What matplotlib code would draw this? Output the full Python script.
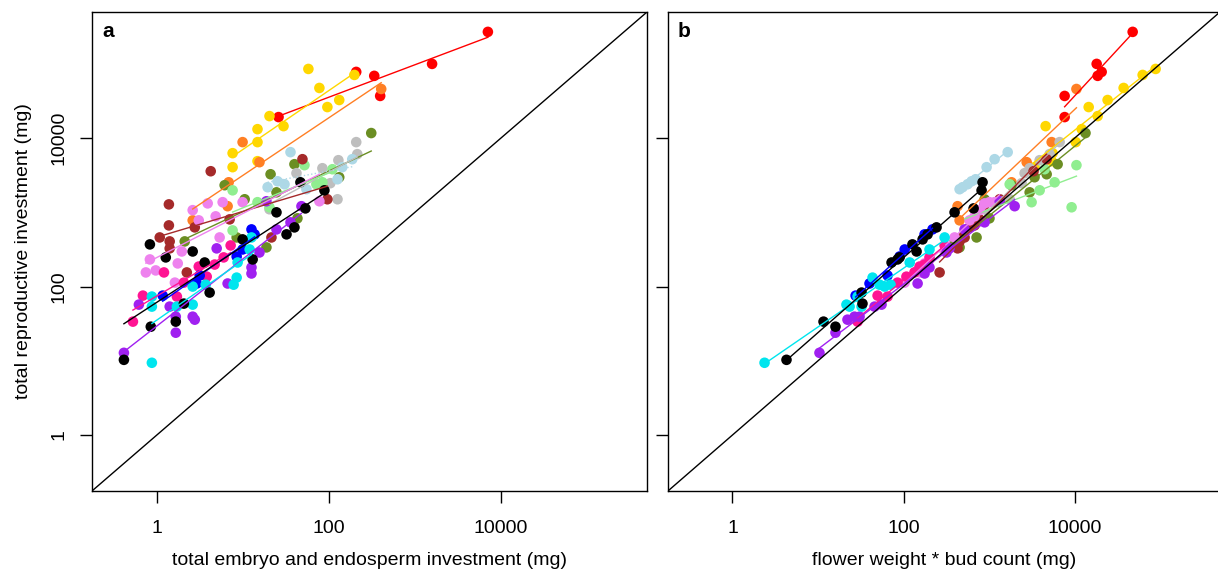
import numpy as np
import matplotlib
matplotlib.use("Agg")
import matplotlib.pyplot as plt

plt.rcParams['font.family'] = ['Liberation Sans', 'DejaVu Sans']
plt.rcParams['font.size'] = 14

# total reproductive investment (y), embryo+endosperm (xa), flower weight*bud count (xb), mg
red_y = [270000, 100000, 78000, 69000, 37000, 19200]
red_xa = [7060, 1585, 208, 337, 395, 26]
red_xb = [47700, 18100, 20700, 18600, 7640, 7640]

gold_y = [85500, 47400, 71000, 32600, 26200, 19800, 13200, 14500, 8830, 6270, 4060, 4890]
gold_xa = [57.8, 77.6, 198, 132, 96.1, 20.4, 14.8, 29.7, 14.8, 7.6, 7.6, 14.8]
gold_xb = [88500, 37400, 62400, 24300, 14600, 18600, 12100, 4580, 10300, 5530, 3400, 5390]

orange_y = [45900, 8830, 4740, 2540, 1210, 780]
orange_xa = [406, 9.93, 15.6, 6.84, 6.65, 2.61]
orange_xb = [10500, 5390, 2750, 1830, 428, 452]

olive_y = [11700, 4450, 3260, 1860, 830, 1500, 459, 337, 406, 2320, 2970]
olive_xa = [311, 39.8, 21.0, 24.6, 43.1, 10.5, 8.47, 18.8, 2.11, 6.14, 132]
olive_xb = [13400, 6330, 4710, 2980, 1010, 885, 714, 452, 395, 1830, 3400]

gray_y = [8830, 6080, 5040, 3930, 3370, 2470, 1500, 1100]
gray_xa = [208, 214, 129, 84.1, 42, 104, 126, 20.4]
gray_xb = [6680, 5100, 3900, 2980, 2600, 2400, 1740, 885]

lblue_y = [6470, 5200, 4060, 2790, 2620, 2180, 2390, 2050]
lblue_xa = [35.8, 187, 143, 126, 25.3, 19.4, 30.5, 54.8]
lblue_xb = [1650, 1160, 935, 695, 624, 490, 561, 452]

lgreen_y = [4320, 3810, 2540, 2390, 1980, 1370, 1170, 571]
lgreen_xa = [52, 110, 84.1, 71.6, 7.6, 14.8, 20.4, 7.6]
lgreen_xb = [10500, 4460, 5840, 1740, 3900, 3140, 9220, 517]

brown_y = [5200, 3580, 1500, 1280, 804, 667, 627, 459, 406, 327, 459, 155]
brown_xa = [49.3, 4.23, 96.1, 1.38, 7.02, 1.38, 2.76, 1.08, 1.41, 1.41, 21.5, 2.23]
brown_xb = [4710, 3310, 1330, 885, 774, 676, 592, 517, 452, 428, 490, 264]

violet_y = [1070, 1320, 1370, 1370, 883, 780, 1410, 232, 155, 165, 205, 297, 459, 113]
violet_xa = [2.61, 3.9, 5.82, 9.93, 4.83, 3.07, 77.6, 0.83, 0.745, 0.97, 1.75, 1.95, 5.37, 1.62]
violet_xb = [774, 885, 1010, 1160, 676, 592, 1330, 201, 154, 146, 176, 302, 395, 103]

dpink_y = [33.7, 75.5, 155, 73.3, 113, 186, 136, 247, 358, 198]
dpink_xa = [0.527, 0.688, 1.21, 1.71, 2.06, 3.07, 3.8, 5.98, 7.21, 4.7]
dpink_xb = [29.0, 49.7, 134, 65, 85, 154, 108, 201, 302, 176]

purple_y = [12.8, 23.9, 35.8, 39.3, 39.3, 57.1, 53.7, 110, 150, 181, 288, 327, 589, 733, 1210, 1410]
purple_xa = [0.414, 1.66, 2.76, 1.66, 2.61, 0.618, 1.41, 6.65, 12.6, 12.6, 15.6, 4.96, 24.6, 35.8, 48, 18.8]
purple_xb = [10.4, 16.0, 22.1, 26.7, 30.6, 55.3, 45.8, 146, 176, 201, 318, 345, 517, 885, 1990, 1330]

blue_y = [589, 505, 316, 254, 141, 110, 75.5]
blue_xa = [12.6, 13.7, 9.93, 8.47, 3.15, 2.91, 1.17]
blue_xb = [218, 176, 103, 89.8, 65, 40, 27.5]

cyan_y = [9.4, 73.3, 53.7, 53.7, 57.1, 100, 106, 106, 132, 211, 316, 459]
cyan_xa = [0.875, 0.875, 0.875, 1.71, 2.61, 2.61, 3.7, 7.81, 8.47, 8.69, 12.0, 12.6]
cyan_xb = [2.37, 29.0, 32.3, 23.4, 21.5, 60, 70.5, 52.4, 43.4, 118, 201, 302]

black_y = [2540, 1980, 1130, 1000, 627, 505, 432, 370, 297, 247, 232, 211, 83, 58.9, 33.7, 28.8, 10.3]
black_xa = [46.7, 88.7, 53.4, 24.6, 39.8, 32.2, 9.93, 0.83, 2.61, 1.27, 13.0, 3.6, 4.11, 2.06, 1.66, 0.85, 0.414]
black_xb = [839, 817, 659, 395, 243, 191, 167, 127, 142, 89.8, 85, 72.4, 32.3, 33.1, 11.6, 16.0, 4.28]

# colour, y, xa, xb, dotted line in panel a
groups = [
    ('#FF0000', red_y, red_xa, red_xb, False),
    ('#FFD700', gold_y, gold_xa, gold_xb, False),
    ('#FF7F24', orange_y, orange_xa, orange_xb, False),
    ('#6B8E23', olive_y, olive_xa, olive_xb, False),
    ('#BEBEBE', gray_y, gray_xa, gray_xb, False),
    ('#ADD8E6', lblue_y, lblue_xa, lblue_xb, True),
    ('#90EE90', lgreen_y, lgreen_xa, lgreen_xb, False),
    ('#A52A2A', brown_y, brown_xa, brown_xb, False),
    ('#EE82EE', violet_y, violet_xa, violet_xb, False),
    ('#FF1493', dpink_y, dpink_xa, dpink_xb, False),
    ('#A020F0', purple_y, purple_xa, purple_xb, False),
    ('#0000FF', blue_y, blue_xa, blue_xb, False),
    ('#00E5EE', cyan_y, cyan_xa, cyan_xb, False),
    ('#000000', black_y, black_xa, black_xb, False),
]

lims = (0.176, 5.0e5)


def panel(ax, which, label):
    for col, y, xa, xb, dotted in groups:
        x = np.array(xa if which == 'a' else xb, dtype=float)
        y = np.array(y, dtype=float)
        ax.scatter(x, y, s=58, color=col, edgecolors='none', zorder=2)
        lx, ly = np.log10(x), np.log10(y)
        k, b = np.polyfit(lx, ly, 1)
        xs = np.array([lx.min(), lx.max()])
        ls = ':' if (dotted and which == 'a') else '-'
        ax.plot(10 ** xs, 10 ** (k * xs + b), color=col, lw=1, ls=ls, zorder=3)
    ax.plot(lims, lims, color='black', lw=1, zorder=4)
    ax.set_xscale('log')
    ax.set_yscale('log')
    ax.set_xlim(lims)
    ax.set_ylim(lims)
    ax.set_xticks([1, 100, 10000])
    ax.set_xticklabels(['1', '100', '10000'])
    ax.set_yticks([1, 100, 10000])
    ax.set_yticklabels(['1', '100', '10000'], rotation=90, va='center')
    ax.minorticks_off()
    ax.tick_params(axis='both', length=8.6, width=1, direction='out')
    ax.tick_params(axis='x', pad=12)
    ax.tick_params(axis='y', pad=9)
    for s in ax.spines.values():
        s.set_linewidth(1)
    ax.text(0.018, 0.948, label, transform=ax.transAxes, fontsize=15,
            fontweight='bold', va='baseline', ha='left')


fig = plt.figure(figsize=(12.18, 5.72), dpi=100)
axa = fig.add_axes([0.0755, 0.1416, 0.4557, 0.8374])
axb = fig.add_axes([0.5484, 0.1416, 0.4532, 0.8374])

panel(axa, 'a', 'a')
panel(axb, 'b', 'b')
axb.set_yticklabels([])

axa.set_xlabel('total embryo and endosperm investment (mg)', labelpad=11)
axa.set_ylabel('total reproductive investment (mg)', labelpad=13)
axb.set_xlabel('flower weight * bud count (mg)', labelpad=11)

fig.savefig('out.png', dpi=100)
